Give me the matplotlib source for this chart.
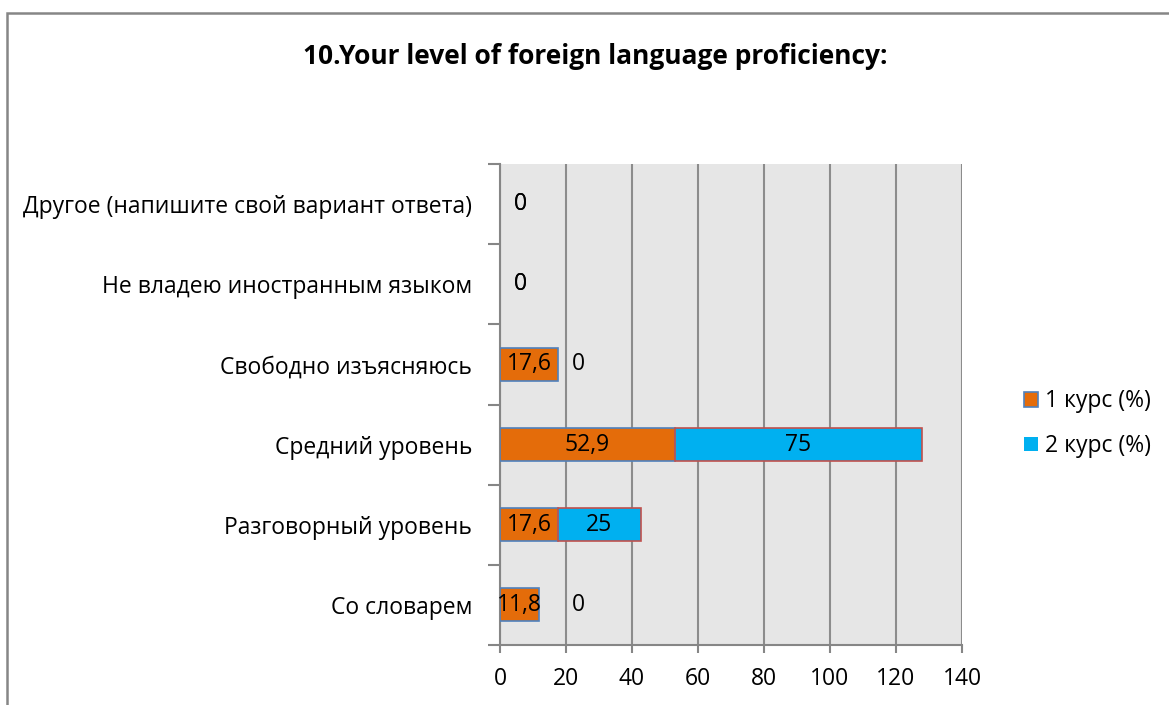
import matplotlib
matplotlib.use("Agg")
import matplotlib.pyplot as plt
from matplotlib.patches import Rectangle

plt.rcParams['font.family'] = ['Open Sans', 'DejaVu Sans']

categories = ["Со словарем", "Разговорный уровень", "Средний уровень",
              "Свободно изъясняюсь", "Не владею иностранным языком",
              "Другое (напишите свой вариант ответа)"]
kurs1 = [11.8, 17.6, 52.9, 17.6, 0, 0]
kurs2 = [0, 25, 75, 0, 0, 0]
series_names = ["1 курс (%)", "2 курс (%)"]
xticks = [0, 20, 40, 60, 80, 100, 120, 140]

fs = 16.5

fig = plt.figure(figsize=(11.69, 7.05), dpi=100)
fig.patches.append(Rectangle((7 / 1169, -0.1), 1.2, 0.1 + 1 - 13 / 705,
                             transform=fig.transFigure, fill=False,
                             edgecolor="#868686", linewidth=1.8))

ax = fig.add_axes([500 / 1169, 60 / 705, 462 / 1169, 481 / 705])
ax.set_facecolor("#E6E6E6")

y = list(range(len(categories)))
h = 0.41
b1 = ax.barh(y, kurs1, height=h, color="#E46C0A", edgecolor="#4F81BD",
             linewidth=1.2, label=series_names[0], zorder=3)
b2 = ax.barh(y, kurs2, height=h, left=kurs1, color="#00B0F0",
             edgecolor="#C0504D", linewidth=1.2, label=series_names[1], zorder=3)
for p in list(b1) + list(b2):
    if p.get_width() == 0:
        p.set_linewidth(0)


def fmt(v):
    return ("%g" % v).replace(".", ",")


for i in y:
    starts = [0, kurs1[i]]
    vals = [kurs1[i], kurs2[i]]
    for s, v in zip(starts, vals):
        if v > 0:
            ax.text(s + v / 2, i, fmt(v), ha="center", va="center",
                    fontsize=fs, zorder=4)
        else:
            # zero segments: label pushed right, further if a label sits before it
            off = 10 if (s == 0 or s > 15) else 24
            ax.annotate("0", (s, i), xytext=(off, 0), textcoords="offset points",
                        ha="left", va="center", fontsize=fs, zorder=4)

ax.set_xlim(0, 140)
ax.set_ylim(-0.5, len(categories) - 0.5)
ax.set_xticks(xticks)
ax.set_xticklabels([str(t) for t in xticks], fontsize=fs)
ax.set_yticks(y)
ax.set_yticklabels(categories, fontsize=fs)
ax.set_yticks([k - 0.5 for k in range(len(categories) + 1)], minor=True)
ax.tick_params(axis="y", which="major", length=0, pad=20)
ax.tick_params(axis="y", which="minor", length=9, color="#868686", width=1.5)
ax.tick_params(axis="x", length=6, color="#868686", width=1.5, pad=10)
ax.grid(axis="x", color="#8C8C8C", linewidth=1.5, zorder=1)
ax.set_axisbelow(True)
for side in ["top", "right"]:
    ax.spines[side].set_visible(False)
for side in ["left", "bottom"]:
    ax.spines[side].set_color("#868686")
    ax.spines[side].set_linewidth(1.5)

fig.text(595 / 1169, 1 - 57 / 705, "10.Your level of foreign language proficiency:",
         ha="center", va="center", fontsize=19, fontweight="bold")

ax.legend(loc="center left", bbox_to_anchor=(1.09, 0.46), frameon=False,
          fontsize=fs, handlelength=0.6, handleheight=0.6, handletextpad=0.3,
          labelspacing=0.9)

fig.savefig("out.png", dpi=100)
